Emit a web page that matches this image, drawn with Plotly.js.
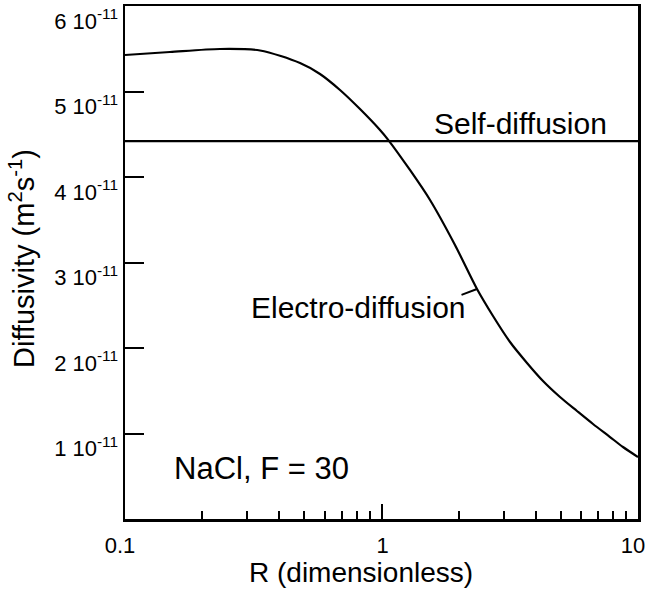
<!DOCTYPE html>
<html>
<head>
<meta charset="utf-8">
<script src="https://cdn.plot.ly/plotly-3.0.1.min.js"></script>
<style>html,body{margin:0;padding:0;background:#fff;}#chart{width:646px;height:606px;}</style>
</head>
<body>
<div id="chart"></div>
<script>
// Data
var R = [0.1, 0.1497, 0.2346, 0.336, 0.4812, 0.5757, 0.689, 0.8245, 0.9867, 1.06, 1.291, 1.546, 1.934, 2.357, 2.721, 3.17, 3.692, 4.262, 4.965, 5.782, 6.677, 7.779, 8.739, 10];
var electroD = [5.427e-11, 5.462e-11, 5.497e-11, 5.48e-11, 5.333e-11, 5.205e-11, 5.018e-11, 4.795e-11, 4.55e-11, 4.438e-11, 4.082e-11, 3.731e-11, 3.205e-11, 2.69e-11, 2.374e-11, 2.07e-11, 1.825e-11, 1.614e-11, 1.427e-11, 1.263e-11, 1.111e-11, 0.959e-11, 0.842e-11, 0.725e-11];
var selfR = [0.1, 10];
var selfD = [4.42e-11, 4.42e-11];
var xTickVals = [0.1, 1, 10];
var xTickText = ['0.1', '\u00a0\u00a01', '10'];
var xMinorVals = [0.2, 0.3, 0.4, 0.5, 0.6, 0.7, 0.8, 0.9, 2, 3, 4, 5, 6, 7, 8, 9];
var yTickVals = [1e-11, 2e-11, 3e-11, 4e-11, 5e-11, 6e-11];
var yTickText = ['1 10<sup>-11</sup>', '2 10<sup>-11</sup>', '3 10<sup>-11</sup>', '4 10<sup>-11</sup>', '5 10<sup>-11</sup>', '6 10<sup>-11</sup>'];
var leaderIndex = 13; // point on electro-diffusion curve where the label leader touches

var FONT = '"Liberation Sans", Arial, Helvetica, sans-serif';

var traces = [
  {x: R, y: electroD, type: 'scatter', mode: 'lines', line: {color: '#000', width: 2.2, shape: 'spline', smoothing: 0.8}, name: 'Electro-diffusion'},
  {x: selfR, y: selfD, type: 'scatter', mode: 'lines', line: {color: '#000', width: 2.2}, name: 'Self-diffusion'}
];

var layout = {
  width: 646, height: 606,
  margin: {l: 125, r: 8, t: 6, b: 87},
  paper_bgcolor: '#fff', plot_bgcolor: '#fff',
  showlegend: false, hovermode: false,
  font: {family: FONT, color: '#000'},
  xaxis: {
    type: 'log', range: [-1, 1],
    showline: true, linecolor: '#000', linewidth: 2.5, mirror: true,
    showgrid: false, zeroline: false,
    ticks: 'inside', ticklen: 15, tickwidth: 2, tickcolor: '#000',
    tickmode: 'array', tickvals: xTickVals, ticktext: xTickText,
    tickfont: {size: 22, family: FONT, color: '#000'},
    ticklabeloverflow: 'allow',
    ticklabelshift: -5,
    ticklabelstandoff: 5,
    minor: {tickmode: 'array', tickvals: xMinorVals, ticks: 'inside', ticklen: 8, tickwidth: 2, tickcolor: '#000', showgrid: false}
  },
  yaxis: {
    range: [0, 6e-11],
    showline: true, linecolor: '#000', linewidth: 2.5, mirror: true,
    showgrid: false, zeroline: false,
    ticks: 'inside', ticklen: 19, tickwidth: 2, tickcolor: '#000',
    tickmode: 'array', tickvals: yTickVals, ticktext: yTickText,
    tickfont: {size: 22, family: FONT, color: '#000'},
    ticklabeloverflow: 'allow',
    ticklabelshift: 15
  },
  annotations: [
    {xref: 'paper', yref: 'paper', x: (361 - 125) / 513, y: (519 - 573) / 513, xanchor: 'center', yanchor: 'middle', showarrow: false,
     text: 'R (dimensionless)', font: {size: 28, family: FONT, color: '#000'}},
    {xref: 'paper', yref: 'paper', x: (22 - 125) / 513, y: (519 - 259) / 513, xanchor: 'center', yanchor: 'middle', showarrow: false, textangle: -90,
     text: 'Diffusivity (m<sup>2</sup>s<sup>-1</sup>)', font: {size: 29, family: FONT, color: '#000'}},
    {xref: 'x', yref: 'y', x: 0.540, y: 4.62e-11, xanchor: 'center', yanchor: 'middle', showarrow: false,
     text: 'Self-diffusion', font: {size: 30, family: FONT, color: '#000'}},
    {xref: 'x', yref: 'y', x: -0.088, y: 2.47e-11, xanchor: 'center', yanchor: 'middle', showarrow: false,
     text: 'Electro-diffusion', font: {size: 30, family: FONT, color: '#000'}},
    {xref: 'paper', yref: 'paper', x: (261 - 125) / 513, y: (519 - 468) / 513, xanchor: 'center', yanchor: 'middle', showarrow: false,
     text: 'NaCl, F = 30', font: {size: 31, family: FONT, color: '#000'}},
    {xref: 'x', yref: 'y', x: Math.log10(R[leaderIndex]), y: electroD[leaderIndex], text: '', showarrow: true,
     arrowhead: 0, arrowwidth: 2, arrowcolor: '#000', ax: -16, ay: 6, borderpad: 0, standoff: 0}
  ]
};

Plotly.newPlot('chart', traces, layout, {staticPlot: true, displayModeBar: false});
</script>
</body>
</html>
